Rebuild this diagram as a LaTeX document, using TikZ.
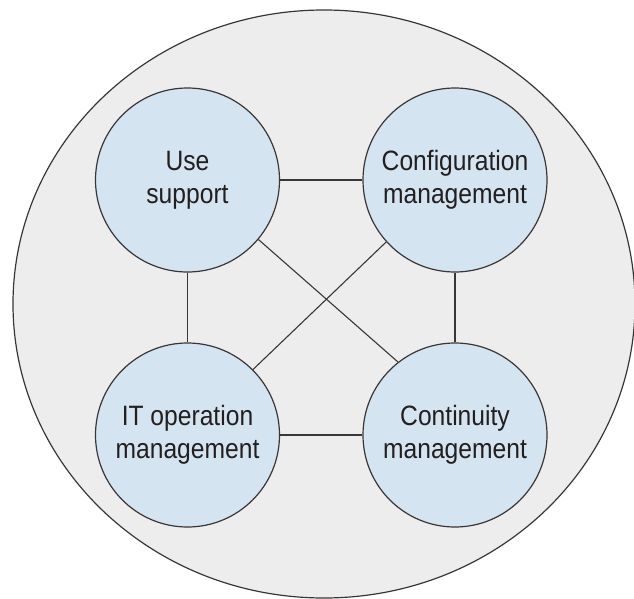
\documentclass[tikz,border=0pt]{standalone}
\usepackage{fontspec}
\setmainfont[FakeStretch=0.88]{Liberation Sans}
\definecolor{outerfill}{HTML}{EDEDED}
\definecolor{innerfill}{HTML}{D5E4F1}
\definecolor{linecol}{HTML}{3A3636}
\definecolor{textcol}{HTML}{231F20}
\begin{document}
\begin{tikzpicture}[x=1pt,y=-1pt,
  outer/.style={draw=linecol,fill=outerfill,line width=1.2pt},
  proc/.style={circle,draw=linecol,fill=innerfill,line width=1.2pt,minimum size=184pt,inner sep=0pt},
  lbl/.style={align=center,text=textcol,font=\fontsize{28}{33}\selectfont},
  link/.style={draw=linecol,line width=1.1pt}]
\useasboundingbox (0,0) rectangle (634,599);
\clip (0,0) rectangle (634,599);
\draw[outer] (324,304) ellipse [x radius=311pt, y radius=294pt];
\node[proc] (us) at (187.5,180) {};
\node[proc] (cf) at (455,180) {};
\node[proc] (it) at (187.5,435) {};
\node[proc] (cm) at (455,435) {};
\node[lbl] at (187.5,180) {Use\\support};
\node[lbl] at (455,180) {Configuration\\management};
\node[lbl] at (187.5,435) {IT operation\\management};
\node[lbl] at (455,435) {Continuity\\management};
\draw[link] (us) -- (cf);
\draw[link] (it) -- (cm);
\draw[link] (us) -- (it);
\draw[link] (cf) -- (cm);
\draw[link] (us.-40) -- (cm.128);
\draw[link] (cf.-138) -- (it.45);
\end{tikzpicture}
\end{document}
